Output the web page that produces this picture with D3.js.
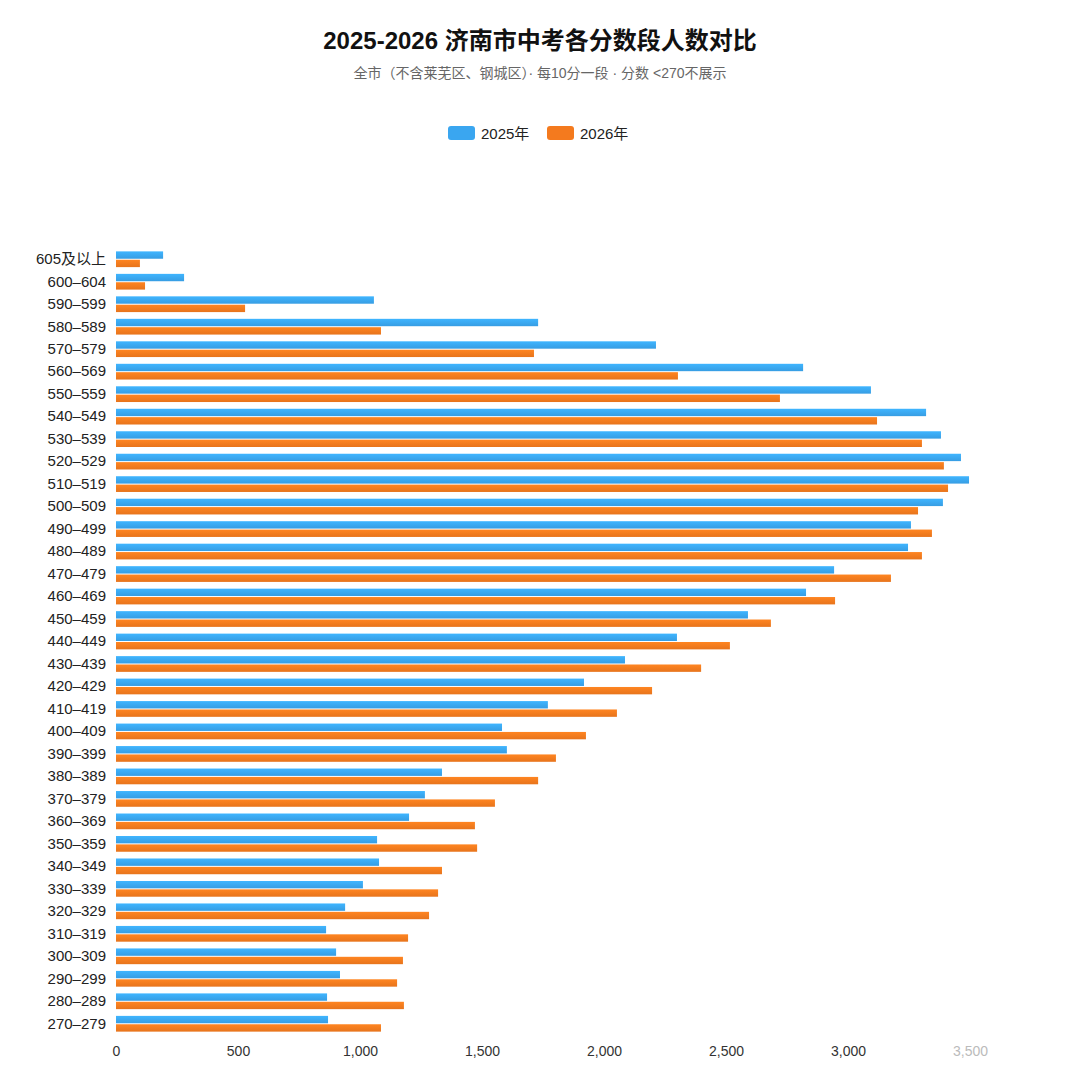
<!DOCTYPE html>
<html>
<head>
<meta charset="utf-8">
<script src="https://cdn.jsdelivr.net/npm/d3@7/dist/d3.min.js"></script>
<style>
  body { margin: 0; background: #fff; }
  svg { font-family: "Liberation Sans", "Noto Sans CJK SC", sans-serif; }
</style>
</head>
<body>
<div id="chart"></div>
<script>
// score bands, top to bottom
var bands = ["605及以上", "600–604", "590–599", "580–589", "570–579", "560–569", "550–559",
  "540–549", "530–539", "520–529", "510–519", "500–509", "490–499", "480–489", "470–479",
  "460–469", "450–459", "440–449", "430–439", "420–429", "410–419", "400–409", "390–399",
  "380–389", "370–379", "360–369", "350–359", "340–349", "330–339", "320–329", "310–319",
  "300–309", "290–299", "280–289", "270–279"];

var y2025 = [193, 279, 1057, 1730, 2213, 2816, 3094, 3320, 3381, 3463, 3496, 3389, 3258,
  3246, 2943, 2828, 2590, 2299, 2086, 1918, 1770, 1582, 1602, 1336, 1266, 1201, 1070,
  1078, 1012, 939, 861, 902, 918, 865, 869];

var y2026 = [98, 119, 529, 1086, 1713, 2303, 2721, 3119, 3303, 3393, 3410, 3287, 3344,
  3303, 3176, 2947, 2684, 2516, 2398, 2197, 2053, 1926, 1803, 1730, 1553, 1471, 1480,
  1336, 1320, 1283, 1197, 1176, 1152, 1180, 1086];

var seriesNames = ["2025年", "2026年"];
var seriesColors = ["#3aa6f0", "#f47a1e"];
var xTicks = [0, 500, 1000, 1500, 2000, 2500, 3000, 3500];

var width = 1080, height = 1080;
var margin = {top: 248, right: 110, bottom: 45, left: 116};

var svg = d3.select("#chart").append("svg")
  .attr("width", width)
  .attr("height", height);

// gradients for a bit of sheen on the bars
var defs = svg.append("defs");
seriesColors.forEach(function(c, i) {
  var g = defs.append("linearGradient")
    .attr("id", "grad" + i)
    .attr("x1", 0).attr("y1", 0).attr("x2", 0).attr("y2", 1);
  g.append("stop").attr("offset", "0%").attr("stop-color", d3.color(c).brighter(0.25));
  g.append("stop").attr("offset", "100%").attr("stop-color", d3.color(c).darker(0.15));
});

// title + subtitle
svg.append("text")
  .attr("x", width / 2).attr("y", 49)
  .attr("text-anchor", "middle")
  .attr("font-size", 24).attr("font-weight", 700).attr("fill", "#111")
  .text("2025-2026 济南市中考各分数段人数对比");

svg.append("text")
  .attr("x", width / 2).attr("y", 78)
  .attr("text-anchor", "middle")
  .attr("font-size", 14).attr("fill", "#666")
  .text("全市（不含莱芜区、钢城区）· 每10分一段 · 分数 <270不展示");

// legend
var legend = svg.append("g").attr("transform", "translate(448,126)");
var lx = 0;
seriesNames.forEach(function(name, i) {
  legend.append("rect")
    .attr("x", lx).attr("y", 0)
    .attr("width", 27).attr("height", 14)
    .attr("rx", 3)
    .attr("fill", seriesColors[i]);
  legend.append("text")
    .attr("x", lx + 33).attr("y", 12.5)
    .attr("font-size", 15).attr("fill", "#222")
    .text(name);
  lx += 99;
});

// scales
var x = d3.scaleLinear()
  .domain([0, 3500])
  .range([margin.left, width - margin.right]);

var y = d3.scaleBand()
  .domain(bands)
  .range([margin.top, height - margin.bottom])
  .paddingInner(0.3)
  .paddingOuter(0.15);

var sub = d3.scaleBand()
  .domain([0, 1])
  .range([0, y.bandwidth()])
  .paddingInner(0.12);

var rows = bands.map(function(b, i) { return {band: b, v: [y2025[i], y2026[i]]}; });

var row = svg.selectAll(".row")
  .data(rows)
  .enter().append("g")
  .attr("class", "row")
  .attr("transform", function(d) { return "translate(0," + y(d.band) + ")"; });

row.selectAll("rect")
  .data(function(d) { return d.v; })
  .enter().append("rect")
  .attr("x", x(0))
  .attr("y", function(d, i) { return sub(i); })
  .attr("width", function(d) { return x(d) - x(0); })
  .attr("height", sub.bandwidth())
  .attr("fill", function(d, i) { return "url(#grad" + i + ")"; });

// y labels
var yAxis = d3.axisLeft(y).tickSize(0).tickPadding(10);
svg.append("g")
  .attr("transform", "translate(" + margin.left + ",0)")
  .call(yAxis)
  .call(function(g) { g.select(".domain").remove(); })
  .selectAll("text")
  .attr("font-size", 15)
  .attr("font-family", "\"Liberation Sans\", \"Noto Sans CJK SC\", sans-serif")
  .attr("fill", "#222");

// x axis, labels only
var xAxis = d3.axisBottom(x).tickValues(xTicks).tickSize(0).tickPadding(11)
  .tickFormat(d3.format(","));
svg.append("g")
  .attr("transform", "translate(0," + (height - margin.bottom) + ")")
  .call(xAxis)
  .call(function(g) { g.select(".domain").remove(); })
  .selectAll("text")
  .attr("font-size", 14)
  .attr("font-family", "\"Liberation Sans\", \"Noto Sans CJK SC\", sans-serif")
  .attr("fill", function(d) { return d === 3500 ? "#bbb" : "#333"; });
</script>
</body>
</html>
